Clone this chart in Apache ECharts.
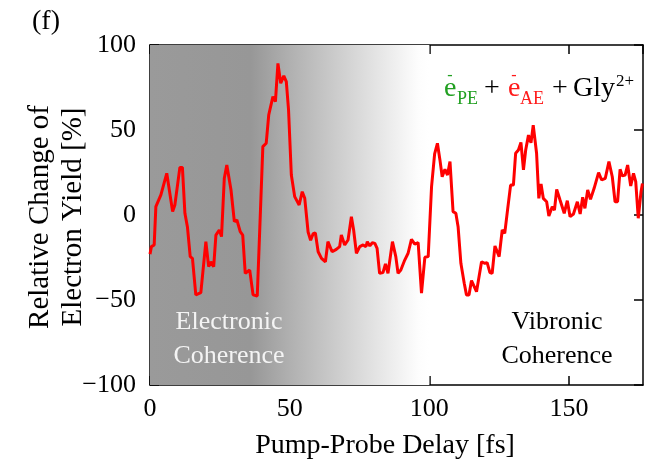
<!DOCTYPE html>
<html>
<head>
<meta charset="utf-8">
<script src="https://cdn.jsdelivr.net/npm/echarts@6/dist/echarts.min.js"></script>
<style>
  html, body { margin: 0; padding: 0; background: #fff; }
  #chart { width: 648px; height: 469px; }
</style>
</head>
<body>
<div id="chart"></div>
<script>
// Pump-probe delay (fs) and relative change of electron yield (%)
const delayFs = [
  0, 0.5, 1.5, 2.1, 3.9, 6.0, 8.1, 8.9, 10.7, 11.6, 12.5, 13.4, 14.4, 15.2, 16.4, 18.2,
  20.0, 21.0, 21.8, 22.8, 23.6, 24.8, 25.6, 26.6, 27.5, 29.0, 30.2, 31.1, 32.3, 33.2, 34.1,
  35.7, 36.9, 38.4, 40.4, 41.6, 42.5, 44.0, 44.9, 45.8, 46.8, 47.9, 48.8, 49.6, 50.6, 51.8,
  53.4, 54.5, 55.4, 56.6, 57.5, 58.4, 59.2, 60.2, 61.4, 62.8, 63.7, 65.2, 66.7, 67.9, 68.5,
  69.7, 70.9, 72.1, 72.9, 73.9, 75.1, 76.3, 77.3, 77.8, 78.7, 79.6, 80.5, 81.3, 82.2, 83.4,
  84.3, 85.2, 86.8, 88.0, 88.8, 89.8, 91.2, 92.4, 93.6, 94.8, 96.0, 97.2, 98.4, 99.6, 100.8,
  101.9, 102.9, 103.8, 104.6, 105.6, 106.5, 107.4, 108.5, 109.5, 110.3, 111.3, 112.5, 113.3,
  114.2, 115.1, 116.9, 118.7, 119.9, 120.7, 121.7, 122.5, 123.5, 125.0, 126.1, 127.0, 128.0,
  129.1, 130.1, 130.9, 131.9, 132.8, 133.7, 134.5, 135.5, 136.4, 137.2, 138.4, 139.2, 140.0,
  140.8, 142.0, 142.8, 144.0, 144.8, 145.6, 146.8, 148.3, 149.4, 150.4, 151.6, 153.0, 154.0,
  154.9, 155.7, 156.7, 157.7, 159.0, 160.6, 161.7, 163.0, 164.3, 165.5, 166.5, 167.4, 168.3,
  169.1, 170.1, 171.0, 172.1, 173.1, 173.9, 174.8, 175.8, 176.3
];
const yieldChange = [
  -23, -18.6, -17.6, 4.9, 11.8, 24.5, 2, 5.9, 28, 28, 1, -7, -24.5, -25.5, -47, -45.7,
  -15.7, -30.4, -27.5, -30.4, -11.8, -8.8, -12.7, 21.6, 29.4, 14.7, -3.9, -2.9, -9.8, -11.8, -34.3,
  -32.4, -47, -47.6, 40.2, 42.2, 58.8, 69.6, 66.7, 89.2, 77.5, 81.8, 78.4, 61.8, 23.5, 10.8,
  5.9, 13.7, 9.8, -10, -14.9, -11, -10.6, -21.6, -25.5, -27.5, -15.7, -21.6, -20.2, -18.6, -11.8,
  -17.6, -14.7, -1, -8.8, -22.5, -18.6, -17.6, -18.6, -15.7, -18.2, -16.3, -16.7, -19.6, -34.3, -33.9,
  -28.8, -34.3, -15.7, -24.5, -34.3, -32.4, -26.5, -22.5, -14.3, -17.1, -16.3, -46, -24.9, -24.5, 16.7,
  36, 42.2, 32.4, 22.5, 26.9, 23.5, 31.4, 2, 1, -6.9, -28.4, -40.2, -47,
  -47, -38.6, -45.1, -27.5, -28.4, -28, -33.9, -34.3, -18.2, -24.5, -8.8, -10.8, 2.9,
  17.6, 17.6, 36.3, 38.2, 42.7, 26.5, 38.2, 47, 42.5, 52.9, 36.3, 9.8, 18.2,
  9.8, 7.8, -0.6, 4.9, 2.9, 15.1, 8.8, 1, 8.4, -1, 0.6, 7.8, 0.6,
  10.4, 3.9, 14.7, 9.2, 15.7, 24.9, 20.6, 21.6, 31.4, 22.5, 7.8, 7.8, 26.9,
  23, 23.5, 29.4, 17.1, 24.5, 19.6, -1.9, 13.7, 18.6
];

// Axis ranges and ticks
const xRange = [0, 176.5];
const xTicks = [0, 50, 100, 150];
const yRange = [-100, 100];
const yTicks = [-100, -50, 0, 50, 100];
// Shaded electronic-coherence window (fs)
const electronicWindow = [0, 100];

const serif = '"Liberation Serif", "DejaVu Serif", serif';
const fmtNum = v => String(v).replace('-', '\u2212');

const chart = echarts.init(document.getElementById('chart'), null, { renderer: 'canvas' });

const tickStyle = { show: true, inside: true, length: 9, lineStyle: { color: '#000', width: 1.5 } };
const lineStyle = { show: true, onZero: false, lineStyle: { color: '#000', width: 1.5 } };

const pts = delayFs.map((x, i) => [x, yieldChange[i]]);

chart.setOption({
  animation: false,
  backgroundColor: '#fff',
  grid: { left: 150, right: 5, top: 45, bottom: 84, show: false },
  xAxis: [
    {
      type: 'value', min: xRange[0], max: xRange[1], interval: 50, position: 'bottom',
      axisLine: lineStyle, axisTick: tickStyle, splitLine: { show: false },
      axisLabel: {
        margin: 11, color: '#000', fontFamily: serif, fontSize: 26, showMaxLabel: false,
        formatter: v => xTicks.includes(v) ? fmtNum(v) : ''
      }
    },
    {
      type: 'value', min: xRange[0], max: xRange[1], interval: 50, position: 'top',
      axisLine: lineStyle, axisTick: tickStyle, splitLine: { show: false },
      axisLabel: { show: false }
    }
  ],
  yAxis: [
    {
      type: 'value', min: yRange[0], max: yRange[1], interval: 50, position: 'left',
      axisLine: lineStyle, axisTick: tickStyle, splitLine: { show: false },
      axisLabel: {
        margin: 14, color: '#000', fontFamily: serif, fontSize: 26,
        formatter: v => yTicks.includes(v) ? fmtNum(v) : ''
      }
    },
    {
      type: 'value', min: yRange[0], max: yRange[1], interval: 50, position: 'right',
      axisLine: lineStyle, axisTick: tickStyle, splitLine: { show: false },
      axisLabel: { show: false }
    }
  ],
  series: [
    {
      type: 'line',
      data: pts,
      symbol: 'none',
      lineStyle: { color: '#ff0000', width: 3 },
      z: 3,
      markArea: {
        silent: true,
        itemStyle: {
          color: {
            type: 'linear', x: 0, y: 0, x2: 1, y2: 0,
            colorStops: [
              { offset: 0, color: '#9a9a9a' },
              { offset: 0.36, color: '#979797' },
              { offset: 0.5, color: '#b0b0b0' },
              { offset: 0.75, color: '#dadada' },
              { offset: 0.96, color: '#fdfdfd' },
              { offset: 1, color: '#ffffff' }
            ]
          }
        },
        data: [[{ xAxis: electronicWindow[0], yAxis: yRange[0] }, { xAxis: electronicWindow[1], yAxis: yRange[1] }]]
      }
    }
  ],
  graphic: [
    // panel letter
    { type: 'text', left: 32, top: 8, style: { text: '(f)', font: '28px ' + serif, fill: '#000' } },
    // y-axis title
    {
      type: 'text', x: 57, y: 217, rotation: Math.PI / 2,
      style: {
        text: 'Relative Change of\nElectron Yield [%]', font: '29px ' + serif, fill: '#000',
        align: 'center', verticalAlign: 'middle', lineHeight: 33
      }
    },
    // x-axis title
    {
      type: 'text', x: 385, y: 446,
      style: { text: 'Pump-Probe Delay [fs]', font: '28px ' + serif, fill: '#000', align: 'center', verticalAlign: 'middle' }
    },
    // region labels
    {
      type: 'text', x: 229, y: 339, z: 10,
      style: { text: 'Electronic\nCoherence', font: '26px ' + serif, fill: '#f4f4f4', align: 'center', verticalAlign: 'middle', lineHeight: 34 }
    },
    {
      type: 'text', x: 557, y: 339, z: 10,
      style: { text: 'Vibronic\nCoherence', font: '26px ' + serif, fill: '#000', align: 'center', verticalAlign: 'middle', lineHeight: 34 }
    },
    // channel label: e-_PE + e-_AE + Gly2+
    { type: 'text', x: 444, y: 89, z: 10, style: { text: 'e', font: '28px ' + serif, fill: '#22a022', align: 'left', verticalAlign: 'middle' } },
    { type: 'text', x: 450, y: 76, z: 10, style: { text: '-', font: '16px ' + serif, fill: '#22a022', align: 'center', verticalAlign: 'middle' } },
    { type: 'text', x: 457, y: 99, z: 10, style: { text: 'PE', font: '18px ' + serif, fill: '#22a022', align: 'left', verticalAlign: 'middle' } },
    { type: 'text', x: 492, y: 89, z: 10, style: { text: '+', font: '28px ' + serif, fill: '#000', align: 'center', verticalAlign: 'middle' } },
    { type: 'text', x: 508, y: 89, z: 10, style: { text: 'e', font: '28px ' + serif, fill: '#ff1a1a', align: 'left', verticalAlign: 'middle' } },
    { type: 'text', x: 514, y: 76, z: 10, style: { text: '-', font: '16px ' + serif, fill: '#ff1a1a', align: 'center', verticalAlign: 'middle' } },
    { type: 'text', x: 520, y: 99, z: 10, style: { text: 'AE', font: '18px ' + serif, fill: '#ff1a1a', align: 'left', verticalAlign: 'middle' } },
    { type: 'text', x: 560, y: 89, z: 10, style: { text: '+', font: '28px ' + serif, fill: '#000', align: 'center', verticalAlign: 'middle' } },
    { type: 'text', x: 573, y: 89, z: 10, style: { text: 'Gly', font: '28px ' + serif, fill: '#000', align: 'left', verticalAlign: 'middle' } },
    { type: 'text', x: 616, y: 82, z: 10, style: { text: '2+', font: '17px ' + serif, fill: '#000', align: 'left', verticalAlign: 'middle' } }
  ]
});
</script>
</body>
</html>
